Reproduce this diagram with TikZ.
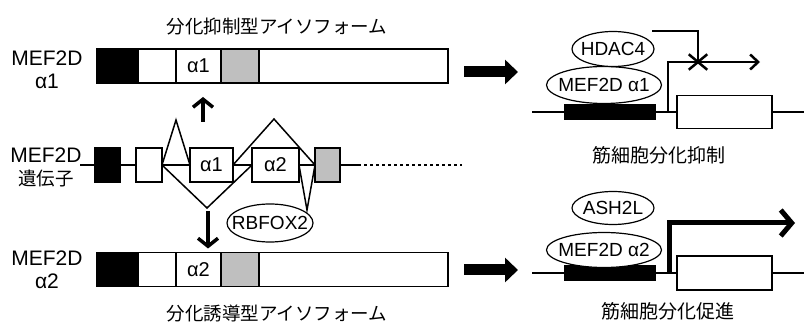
\documentclass[tikz,border=0pt]{standalone}
\usepackage{fontspec}
\setmainfont{Liberation Sans}
\newfontfamily\jpfont{Noto Sans CJK JP}
\usetikzlibrary{arrows.meta,positioning,shapes.geometric,shapes.misc}
\newcommand{\prot}[1]{\makebox[40pt]{#1}}
\tikzset{
    exon/.style={
           rectangle,
           draw=black, line width=1.5pt,
           inner sep=0pt, outer sep=0pt,
           minimum height=34pt,
           fill=white,
           font=\fontsize{20}{22}\selectfont,
           },
}
\tikzset{
    blkexon/.style={
           exon,
           fill=black,
           },
}
\tikzset{
    gryexon/.style={
           exon,
           fill=black!25,
           },
}
\tikzset{
    protein/.style={
           ellipse,
           draw=black, line width=1.2pt,
           fill=white,
           inner sep=0pt,
           font=\fontsize{19}{21}\selectfont,
           },
}
\tikzset{
    lab/.style={
           align=center,
           font=\fontsize{21}{23}\selectfont,
           },
}
\tikzset{
    jptitle/.style={
           font=\jpfont\fontsize{18.5}{20}\selectfont,
           },
}
\tikzset{
    note/.style={
           font=\jpfont\fontsize{19}{21}\selectfont,
           },
}
\tikzset{
    gene/.style={line width=2.5pt},
    splice/.style={line width=1.5pt},
    dna/.style={line width=1.8pt},
    split/.style={line width=3.5pt, -{Straight Barb[length=8pt,width=20pt]}},
    bigarrow/.style={line width=11pt, -{Triangle[length=13pt,width=24pt]}},
    prom/.style={line width=2.5pt, -{Straight Barb[length=8pt,width=15pt]}},
    strongprom/.style={line width=5pt, -{Straight Barb[length=11pt,width=26pt]}},
    xmark/.style={cross out, draw, line width=2.5pt, inner sep=0pt,
           minimum width=16pt, minimum height=13pt},
}

\begin{document}
\begin{tikzpicture}[x=1pt,y=-1pt]
\useasboundingbox (0,0) rectangle (804,323);

\node[jptitle](ttop) at (277,27){分化抑制型アイソフォーム};
\node[lab](la1) at (47,70){MEF2D\\α1};
\node[blkexon,minimum width=41pt](t0) at (117.5,66){};
\node[exon,minimum width=38pt,right=0pt of t0](t1){};
\node[exon,minimum width=45pt,right=0pt of t1](t2){α1};
\node[gryexon,minimum width=38pt,right=0pt of t2](t3){};
\node[exon,minimum width=189pt,right=0pt of t3](t4){};

\node[lab](lgene) at (46,167){MEF2D\\{\jpfont\fontsize{18.5}{20}\selectfont 遺伝子}};
\coordinate (gl) at (80,165);
\coordinate (gr) at (358,165);
\coordinate (gd) at (462,165);
\node[blkexon,minimum width=25pt](g0) at (107.5,165){};
\node[exon,minimum width=26pt](g1) at (149,165){};
\node[exon,minimum width=43pt](g2) at (211.5,165){α1};
\node[exon,minimum width=47pt](g3) at (275.5,165){α2};
\node[gryexon,minimum width=25pt](g4) at (327.5,165){};
\draw[gene] (gl) -- (g0) (g0) -- (g1) (g1) -- (g2) (g2) -- (g3) (g3) -- (g4) (g4) -- (gr);
\draw[gene,dash pattern=on 3pt off 3pt] (gr) -- (gd);
\coordinate (s1) at (176,120);
\coordinate (s2) at (207,208);
\coordinate (s3) at (274,119);
\coordinate (s4) at (307,210);
\draw[splice] (g1.east) -- (s1) -- (g2.west);
\draw[splice] (g1.east) -- (s2) -- (g3.west);
\draw[splice] (g2.east) -- (s3) -- (g4.west);
\draw[splice] (g3.east) -- (s4) -- (g4.west);

\node[lab](la2) at (47,270){MEF2D\\α2};
\node[blkexon,minimum width=41pt](b0) at (117.5,269.5){};
\node[exon,minimum width=38pt,right=0pt of b0](b1){};
\node[exon,minimum width=45pt,right=0pt of b1](b2){α2};
\node[gryexon,minimum width=38pt,right=0pt of b2](b3){};
\node[exon,minimum width=189pt,right=0pt of b3](b4){};
\node[jptitle](tbot) at (277,313){分化誘導型アイソフォーム};

\node[protein,minimum width=86pt,minimum height=38pt](rbfox) at (270,223){\prot{RBFOX2}};

\coordinate (u1) at (203,122);
\draw[split,shorten >=14pt] (u1) -- (u1 |- t2.south);
\coordinate (d1) at (208,211);
\draw[split,shorten >=4pt] (d1) -- (d1 |- b2.north);

\coordinate (e1) at (518,72);
\draw[bigarrow,shorten <=16pt] (t4.east |- e1) -- (e1);
\coordinate (e2) at (518,270);
\draw[bigarrow,shorten <=16pt] (b4.east |- e2) -- (e2);

\coordinate (dl1) at (532,112);
\coordinate (dr1) at (804,112);
\node[blkexon,minimum width=90pt,minimum height=15pt](rb1) at (610,112){};
\node[exon,minimum width=95pt,minimum height=33pt](rw1) at (724.5,112){};
\draw[dna] (dl1) -- (rb1) (rb1) -- (rw1) (rw1) -- (dr1);
\node[protein,minimum width=115pt,minimum height=37pt](mef1) at (604,85){\prot{MEF2D α1}};
\node[protein,minimum width=82pt,minimum height=35pt](hdac) at (613,49){\prot{HDAC4}};
\coordinate (p1) at (668,112);
\coordinate (p1e) at (760,62);
\draw[prom] (p1) |- (p1e);
\node[xmark](x1) at (698,62){};
\coordinate (h1) at (652,31);
\draw[prom,-] (h1) -| (x1.center);
\node[note](lrep) at (659,155){筋細胞分化抑制};

\coordinate (dl2) at (532,273);
\coordinate (dr2) at (804,273);
\node[blkexon,minimum width=90pt,minimum height=14pt](rb2) at (610,273){};
\node[exon,minimum width=95pt,minimum height=34pt](rw2) at (724.5,273){};
\draw[dna] (dl2) -- (rb2) (rb2) -- (rw2) (rw2) -- (dr2);
\node[protein,minimum width=115pt,minimum height=35pt](mef2) at (604,250){\prot{MEF2D α2}};
\node[protein,minimum width=82pt,minimum height=33pt](ash) at (613,208){\prot{ASH2L}};
\coordinate (p2) at (669,273);
\coordinate (p2e) at (795,223);
\draw[strongprom] (p2) |- (p2e);
\node[note](lpro) at (668,311){筋細胞分化促進};
\end{tikzpicture}
\end{document}
